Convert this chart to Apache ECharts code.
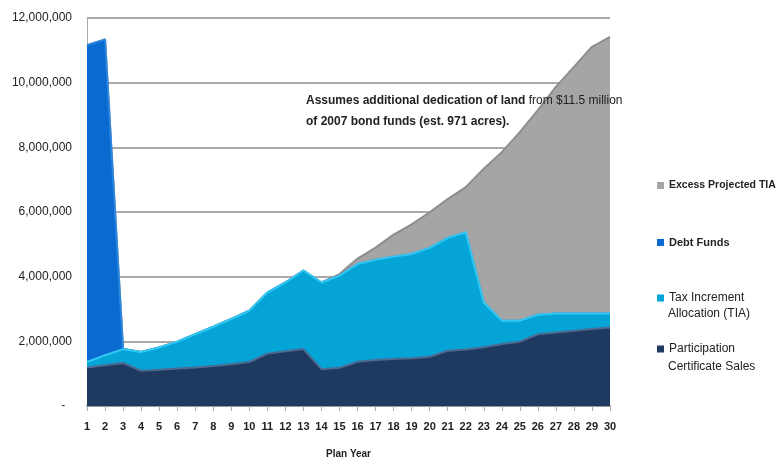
<!DOCTYPE html>
<html>
<head>
<meta charset="utf-8">
<script src="https://cdn.jsdelivr.net/npm/echarts@6/dist/echarts.min.js"></script>
<style>
html,body{margin:0;padding:0;background:#fff;}
#c{width:781px;height:459px;}
</style>
</head>
<body>
<div id="c"></div>
<script>
var years = ['1','2','3','4','5','6','7','8','9','10','11','12','13','14','15','16','17','18','19','20','21','22','23','24','25','26','27','28','29','30'];
var participationSales = [1190000,1260000,1330000,1090000,1120000,1160000,1190000,1240000,1290000,1360000,1620000,1690000,1760000,1140000,1180000,1370000,1420000,1450000,1480000,1520000,1710000,1750000,1820000,1920000,1990000,2220000,2270000,2330000,2380000,2430000];
var taxIncrement = [170000,310000,430000,580000,690000,830000,1030000,1210000,1400000,1590000,1890000,2130000,2430000,2680000,2850000,3020000,3100000,3170000,3220000,3370000,3490000,3620000,1380000,720000,650000,600000,590000,530000,480000,430000];
var debtFunds = [9800000,9770000,0,0,0,0,0,0,0,0,0,0,0,0,0,0,0,0,0,0,0,0,0,0,0,0,0,0,0,0];
var excessTIA = [0,0,0,0,0,0,0,0,0,0,0,0,0,0,50000,170000,380000,680000,920000,1100000,1200000,1400000,4140000,5210000,5830000,6330000,7010000,7630000,8250000,8560000];
var yTicks = [0,2000000,4000000,6000000,8000000,10000000,12000000];
var seriesNames = ['Participation Certificate Sales','Tax Increment Allocation (TIA)','Debt Funds','Excess Projected TIA'];

var chart = echarts.init(document.getElementById('c'));
function fmtNum(v){
  if (v === 0) return '-  ';
  return String(v).replace(/\B(?=(\d{3})+(?!\d))/g, ',');
}
function mkSeries(name, data, fill, edge, z){
  return {
    name: name, type: 'line', stack: 'total', data: data,
    symbol: 'none', z: z,
    itemStyle: {color: fill},
    lineStyle: {color: edge, width: 2},
    areaStyle: {color: fill, opacity: 1}
  };
}
function lg(name, top, font, label){
  return {
    orient: 'vertical', left: 657, top: top, padding: 0,
    itemWidth: 7, itemHeight: 7, itemGap: 0,
    icon: 'rect', selectedMode: false, data: [name],
    textStyle: {fontFamily: 'Liberation Sans', fontSize: font.size, fontWeight: font.weight, color: '#222'},
    formatter: function(){ return label; }
  };
}
chart.setOption({
  animation: false,
  backgroundColor: '#fff',
  grid: {left: 87, right: 171, top: 18, bottom: 53, outerBoundsMode: 'none'},
  xAxis: {
    type: 'category', data: years, boundaryGap: false,
    name: 'Plan Year', nameLocation: 'middle', nameGap: 43,
    nameTextStyle: {fontFamily: 'Liberation Sans', fontSize: 10, fontWeight: 'bold', color: '#222'},
    axisLine: {lineStyle: {color: '#999', width: 2}},
    axisTick: {show: true, length: 5, lineStyle: {color: '#aaa', width: 1}},
    axisLabel: {interval: 0, margin: 15, fontFamily: 'Liberation Sans', fontSize: 11, fontWeight: 'bold', color: '#222'},
    splitLine: {show: false}
  },
  yAxis: {
    type: 'value', min: yTicks[0], max: yTicks[yTicks.length-1], interval: yTicks[1]-yTicks[0],
    axisLine: {show: true, lineStyle: {color: '#aaa', width: 1}},
    axisTick: {show: false},
    axisLabel: {margin: 15, fontFamily: 'Liberation Sans', fontSize: 12, color: '#222', formatter: fmtNum},
    splitLine: {lineStyle: {color: '#8c8c8c', width: 1.5}}
  },
  legend: [
    lg(seriesNames[3], 180, {size: 10.5, weight: 'bold'}, 'Excess Projected TIA'),
    lg(seriesNames[2], 237, {size: 11, weight: 'bold'}, 'Debt Funds'),
    lg(seriesNames[1], 292, {size: 12, weight: 'normal'}, 'Tax Increment'),
    lg(seriesNames[0], 343, {size: 12, weight: 'normal'}, 'Participation')
  ],
  series: [
    mkSeries(seriesNames[0], participationSales, '#1f3a60', '#4d6b92', 4),
    mkSeries(seriesNames[1], taxIncrement, '#05a4d6', '#33c8f2', 3),
    mkSeries(seriesNames[2], debtFunds, '#0a6ad0', '#2b86e0', 2),
    mkSeries(seriesNames[3], excessTIA, '#a5a5a5', '#8e8e8e', 1)
  ],
  graphic: [
    {type: 'text', left: 668, top: 308, z: 100, style: {text: 'Allocation (TIA)', font: '12px "Liberation Sans"', fill: '#222'}},
    {type: 'text', left: 668, top: 361, z: 100, style: {text: 'Certificate Sales', font: '12px "Liberation Sans"', fill: '#222'}},
    {type: 'text', left: 306, top: 95, z: 100, style: {
      text: '{b|Assumes additional dedication of land }{n|from $11.5 million}\n{b|of 2007 bond funds (est. 971 acres).}',
      rich: {
        b: {font: 'bold 12px "Liberation Sans"', fill: '#222', lineHeight: 21},
        n: {font: '12px "Liberation Sans"', fill: '#222', lineHeight: 21}
      }
    }}
  ]
});
</script>
</body>
</html>
